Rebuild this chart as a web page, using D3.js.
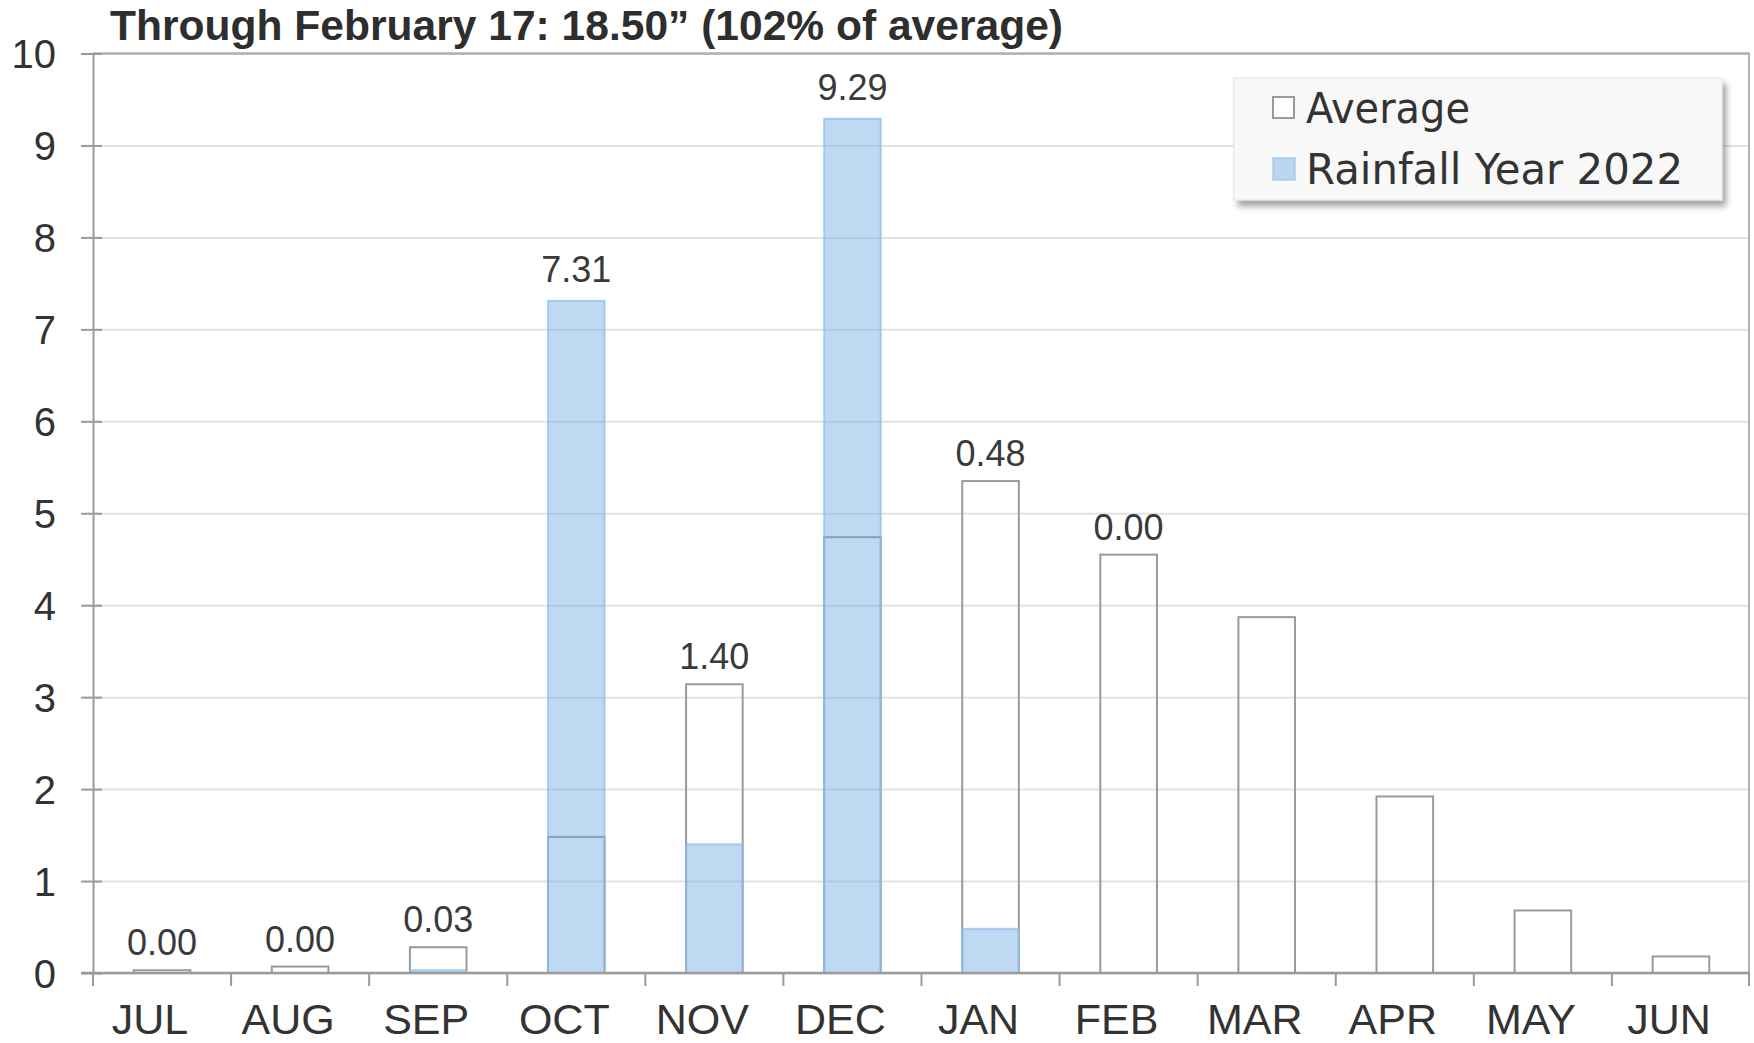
<!DOCTYPE html>
<html>
<head>
<meta charset="utf-8">
<script src="https://cdn.jsdelivr.net/npm/d3@7"></script>
<style>
  html, body { margin: 0; padding: 0; background: #fff; }
  svg { display: block; }
</style>
</head>
<body>
<svg id="chart" width="1754" height="1043"></svg>
<script>
const months = ["JUL","AUG","SEP","OCT","NOV","DEC","JAN","FEB","MAR","APR","MAY","JUN"];
const averages = [0.03, 0.07, 0.28, 1.48, 3.14, 4.74, 5.35, 4.55, 3.87, 1.92, 0.68, 0.18];
const rainfall = [0.00, 0.00, 0.03, 7.31, 1.40, 9.29, 0.48, 0.00, null, null, null, null];
const yTicks = [0, 1, 2, 3, 4, 5, 6, 7, 8, 9, 10];
const titleText = "Through February 17: 18.50\u201d (102% of average)";
const legendLabels = ["Average", "Rainfall Year 2022"];

const W = 1754, H = 1043;
const m = { left: 93, right: 4, top: 53.5, bottom: 70 };
const svg = d3.select("#chart");

const x = d3.scaleBand().domain(months).range([m.left, W - m.right]).padding(0);
const y = d3.scaleLinear().domain([0, 10]).range([H - m.bottom, m.top]);
const barW = x.bandwidth() * 0.41;

const defs = svg.append("defs");
const f = defs.append("filter").attr("id", "shadow").attr("x", "-10%").attr("y", "-20%").attr("width", "130%").attr("height", "150%");
f.append("feDropShadow").attr("dx", 4).attr("dy", 6).attr("stdDeviation", 3).attr("flood-color", "#000").attr("flood-opacity", 0.35);

// gridlines
svg.append("g")
  .attr("transform", `translate(${m.left},0)`)
  .call(d3.axisLeft(y).tickValues(yTicks).tickSize(-(W - m.right - m.left)).tickFormat(""))
  .call(g => g.select(".domain").remove())
  .call(g => g.selectAll("line").attr("stroke", "#e2e2e2").attr("stroke-width", 2));

// frame top & right
svg.append("line").attr("x1", m.left).attr("x2", W - m.right).attr("y1", y(10)).attr("y2", y(10))
  .attr("stroke", "#b0b0b0").attr("stroke-width", 2.5);
svg.append("line").attr("x1", W - m.right - 1).attr("x2", W - m.right - 1).attr("y1", y(10)).attr("y2", y(0))
  .attr("stroke", "#b5b5b5").attr("stroke-width", 2);

// average bars (outline)
svg.append("g").selectAll("rect").data(months).join("rect")
  .attr("x", (d) => x(d) + (x.bandwidth() - barW) / 2)
  .attr("y", (d, i) => y(averages[i]))
  .attr("width", barW)
  .attr("height", (d, i) => y(0) - y(averages[i]))
  .attr("fill", "none")
  .attr("stroke", "#9a9a9a")
  .attr("stroke-width", 2);

// rainfall bars
svg.append("g").selectAll("rect").data(months.filter((d, i) => rainfall[i] !== null && rainfall[i] > 0)).join("rect")
  .attr("x", (d) => x(d) + (x.bandwidth() - barW) / 2)
  .attr("y", (d) => y(rainfall[months.indexOf(d)]))
  .attr("width", barW)
  .attr("height", (d) => y(0) - y(rainfall[months.indexOf(d)]))
  .attr("fill", "rgb(110,170,225)")
  .attr("fill-opacity", 0.45)
  .attr("stroke", "rgb(140,190,240)")
  .attr("stroke-opacity", 0.7)
  .attr("stroke-width", 2);

// value labels
const fmt = d3.format(".2f");
svg.append("g").selectAll("text").data(months.filter((d, i) => rainfall[i] !== null)).join("text")
  .attr("x", (d) => x(d) + x.bandwidth() / 2)
  .attr("y", (d) => {
    const i = months.indexOf(d);
    return rainfall[i] > averages[i] ? y(rainfall[i]) - 19 : y(averages[i]) - 15;
  })
  .attr("text-anchor", "middle")
  .attr("font-family", "Liberation Sans, Arial, sans-serif")
  .attr("font-size", 36)
  .attr("fill", "#3a3a3a")
  .text((d) => fmt(rainfall[months.indexOf(d)]));

// y axis
svg.append("g")
  .attr("transform", `translate(${m.left},0)`)
  .call(d3.axisLeft(y).tickValues(yTicks).tickSize(12).tickPadding(25).tickSizeOuter(0))
  .call(g => g.select(".domain").attr("stroke", "#9a9a9a").attr("stroke-width", 2))
  .call(g => g.selectAll(".tick line").attr("stroke", "#9a9a9a").attr("stroke-width", 2).attr("x2", -12).attr("x1", 9))
  .call(g => g.selectAll(".tick text").attr("font-family", "Liberation Sans, Arial, sans-serif").attr("font-size", 40).attr("fill", "#333").attr("dy", "0.36em"));

// x axis
const xg = svg.append("g").attr("transform", `translate(0,${y(0)})`);
xg.append("line").attr("x1", m.left - 12).attr("x2", W - m.right).attr("stroke", "#9a9a9a").attr("stroke-width", 2.5);
xg.selectAll("line.tk").data(months.concat(["_end"])).join("line").attr("class", "tk")
  .attr("x1", (d) => d === "_end" ? W - m.right - 1 : x(d))
  .attr("x2", (d) => d === "_end" ? W - m.right - 1 : x(d))
  .attr("y1", 0).attr("y2", 13)
  .attr("stroke", "#9a9a9a").attr("stroke-width", 2);
svg.append("g")
  .attr("transform", `translate(-12,${y(0)})`)
  .call(d3.axisBottom(x).tickSize(0).tickPadding(0))
  .call(g => g.select(".domain").remove())
  .call(g => g.selectAll(".tick text").attr("font-family", "Liberation Sans, Arial, sans-serif").attr("font-size", 43).attr("fill", "#333").attr("dy", 0).attr("y", 61));

// title
svg.append("text")
  .attr("x", 110).attr("y", 40)
  .attr("font-family", "Liberation Sans Narrow, Liberation Sans, Arial, sans-serif")
  .attr("font-weight", "bold")
  .attr("font-size", 42)
  .attr("fill", "#2e2e2e")
  .attr("textLength", 953)
  .attr("lengthAdjust", "spacingAndGlyphs")
  .text(titleText);

// legend
const legendLens = [164, 377];
const lg = svg.append("g");
lg.append("rect").attr("x", 1234).attr("y", 78).attr("width", 488).attr("height", 122)
  .attr("fill", "#f8f8f8").attr("stroke", "#e4e4e4").attr("stroke-width", 1).attr("filter", "url(#shadow)");
lg.append("rect").attr("x", 1273).attr("y", 97).attr("width", 21).attr("height", 21)
  .attr("fill", "#fff").attr("stroke", "#9a9a9a").attr("stroke-width", 2);
lg.append("rect").attr("x", 1273).attr("y", 158).attr("width", 22).attr("height", 22)
  .attr("fill", "rgb(110,170,225)").attr("fill-opacity", 0.45).attr("stroke", "rgb(140,190,240)").attr("stroke-opacity", 0.7).attr("stroke-width", 1.5);
lg.selectAll("text").data(legendLabels).join("text")
  .attr("x", 1306).attr("y", (d, i) => 123 + i * 61)
  .attr("font-family", "DejaVu Sans, sans-serif")
  .attr("font-size", 42)
  .attr("fill", "#333")
  .attr("textLength", (d, i) => legendLens[i])
  .attr("lengthAdjust", "spacingAndGlyphs")
  .text(d => d);
</script>
</body>
</html>
